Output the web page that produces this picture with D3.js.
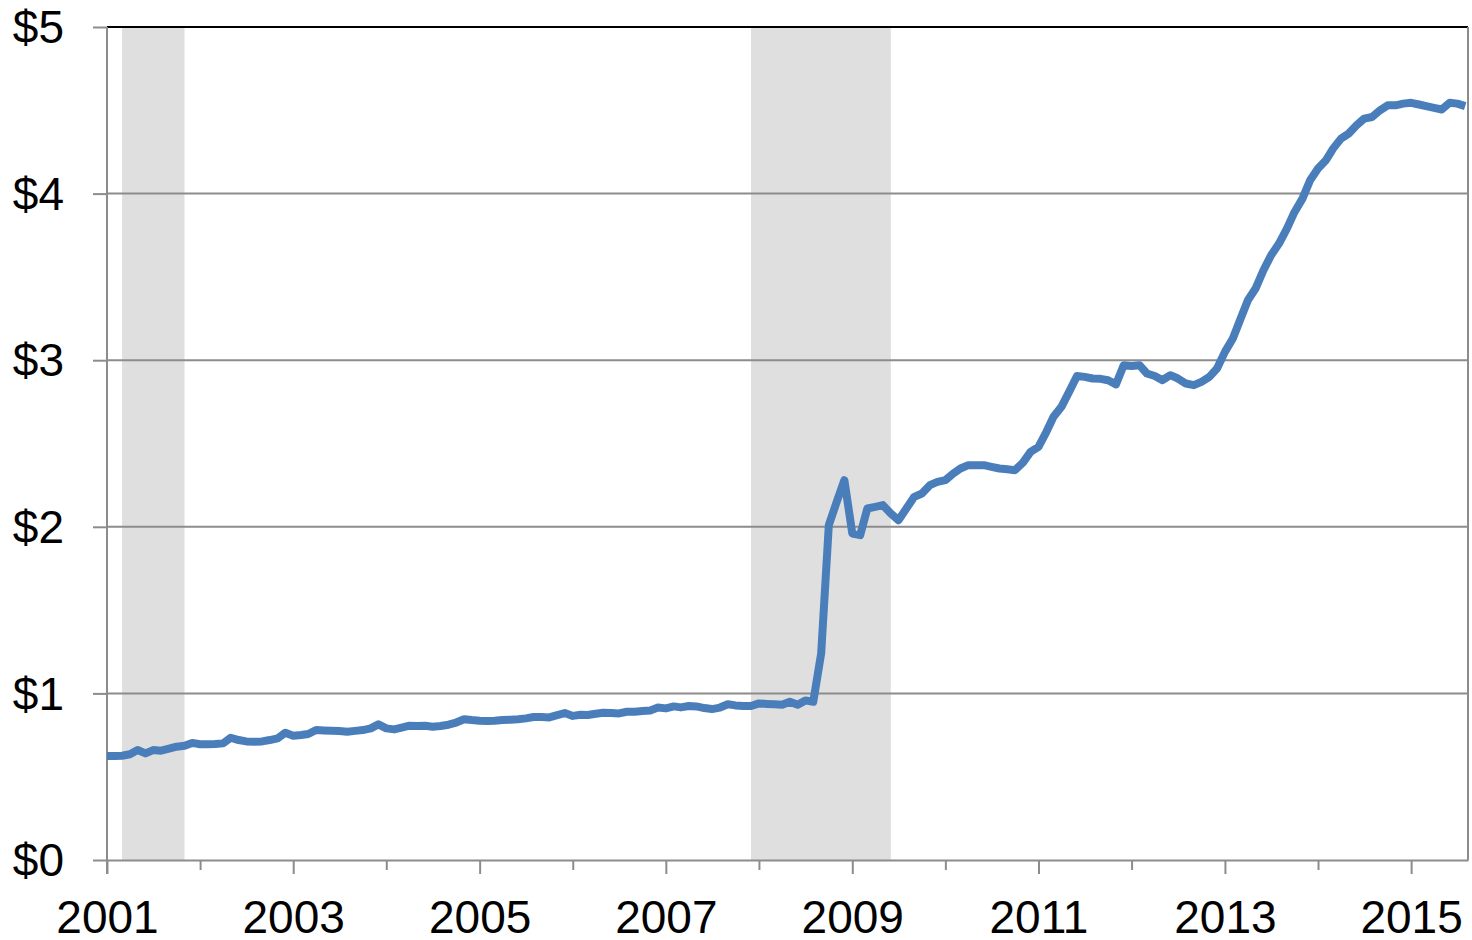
<!DOCTYPE html>
<html>
<head>
<meta charset="utf-8">
<script src="https://cdn.jsdelivr.net/npm/d3@7"></script>
<style>
  body { margin: 0; background: #fff; }
  svg text { font-family: "Liberation Sans", Arial, sans-serif; font-size: 46px; fill: #000; }
</style>
</head>
<body>
<svg id="chart" width="1472" height="940"></svg>
<script>
// monthly values, Jan 2001 onward
const startYear = 2001
const price = [
  0.624, 0.624, 0.626, 0.635, 0.66, 0.64, 0.66, 0.656, 0.668, 0.68, 0.686, 0.703,   // 2001
  0.695, 0.695, 0.696, 0.70, 0.734, 0.72, 0.712, 0.71, 0.712, 0.72, 0.73, 0.764,    // 2002
  0.746, 0.75, 0.756, 0.78, 0.778, 0.776, 0.774, 0.77, 0.775, 0.78, 0.79, 0.814,    // 2003
  0.79, 0.784, 0.795, 0.806, 0.804, 0.806, 0.80, 0.804, 0.812, 0.825, 0.845, 0.84,  // 2004
  0.836, 0.834, 0.836, 0.84, 0.842, 0.845, 0.85, 0.858, 0.858, 0.856, 0.87, 0.882,  // 2005
  0.865, 0.872, 0.87, 0.878, 0.884, 0.882, 0.88, 0.89, 0.89, 0.894, 0.898, 0.915,   // 2006
  0.91, 0.922, 0.916, 0.924, 0.922, 0.912, 0.906, 0.915, 0.935, 0.928, 0.924, 0.924, // 2007
  0.94, 0.937, 0.935, 0.932, 0.95, 0.932, 0.958, 0.95, 1.24, 2.01, 2.15, 2.28,      // 2008
  1.96, 1.95, 2.11, 2.12, 2.13, 2.08, 2.04, 2.11, 2.18, 2.20, 2.25, 2.27,          // 2009
  2.28, 2.32, 2.35, 2.37, 2.37, 2.37, 2.36, 2.35, 2.345, 2.34, 2.385, 2.45,         // 2010
  2.48, 2.57, 2.66, 2.72, 2.81, 2.905, 2.90, 2.89, 2.888, 2.88, 2.855, 2.97,        // 2011
  2.965, 2.97, 2.92, 2.905, 2.88, 2.91, 2.89, 2.86, 2.85, 2.87, 2.90, 2.95,         // 2012
  3.05, 3.13, 3.24, 3.36, 3.43, 3.54, 3.63, 3.70, 3.79, 3.89, 3.97, 4.08,           // 2013
  4.15, 4.20, 4.27, 4.33, 4.36, 4.41, 4.45, 4.46, 4.50, 4.53, 4.53, 4.54,           // 2014
  4.545, 4.535, 4.525, 4.515, 4.505, 4.545, 4.54, 4.525                              // 2015
]

// shaded recessions
const recessions = [
  ["2001-03-01", "2001-11-01"],
  ["2007-12-01", "2009-06-01"]
]

const yTicks = [0, 1, 2, 3, 4, 5]
const xEnd = new Date(2015, 7, 12)

const data = price.map((v, i) => ({ date: new Date(startYear, i, 1), value: v }))

const svg = d3.select("#chart")
const width = +svg.attr("width")
const height = +svg.attr("height")
const margin = { top: 27, right: 4, bottom: 80, left: 107 }
const innerWidth = width - margin.left - margin.right
const innerHeight = height - margin.top - margin.bottom

const xScale = d3.scaleTime()
    .domain([new Date(startYear, 0, 1), xEnd])
    .range([0, innerWidth])

const yScale = d3.scaleLinear()
    .domain([0, 5])
    .range([innerHeight, 0])

const g = svg.append("g")
    .attr("transform", `translate(${margin.left},${margin.top})`)

g.selectAll(".recession")
    .data(recessions)
    .enter()
    .append("rect")
    .attr("class", "recession")
    .attr("x", d => xScale(new Date(d[0])))
    .attr("width", d => xScale(new Date(d[1])) - xScale(new Date(d[0])))
    .attr("y", 0)
    .attr("height", innerHeight)
    .attr("fill", "#dfdfdf")

// y axis + gridlines
const yAxisG = g.append("g")
    .call(d3.axisLeft(yScale)
        .tickValues(yTicks)
        .tickSize(14)
        .tickPadding(29)
        .tickFormat(d => "$" + d))
yAxisG.select(".domain").remove()
yAxisG.selectAll(".tick line").attr("stroke", "#8c8c8c").attr("stroke-width", 2)
yAxisG.selectAll(".tick text").attr("dy", "0.34em")

g.append("g")
    .selectAll("line")
    .data(yTicks.filter(d => d > 0))
    .enter()
    .append("line")
    .attr("x1", 0)
    .attr("x2", innerWidth)
    .attr("y1", d => yScale(d))
    .attr("y2", d => yScale(d))
    .attr("stroke", d => d === 5 ? "#000" : "#8c8c8c")
    .attr("stroke-width", 2)

// x axis
const xAxisG = g.append("g")
    .attr("transform", `translate(0,${innerHeight})`)
    .call(d3.axisBottom(xScale)
        .ticks(d3.timeYear.every(1))
        .tickSizeOuter(0)
        .tickFormat(d => d.getFullYear() % 2 === 1 ? d.getFullYear() : ""))
xAxisG.select(".domain").attr("stroke", "#8c8c8c").attr("stroke-width", 2)
xAxisG.selectAll(".tick line")
    .attr("stroke", "#8c8c8c")
    .attr("stroke-width", 2)
    .attr("y2", d => d.getFullYear() % 2 === 1 ? 14 : 10)
xAxisG.selectAll(".tick text")
    .attr("y", 40)
    .attr("dy", "0.71em")

// left and right frame lines
g.append("line")
    .attr("x1", 0).attr("x2", 0)
    .attr("y1", 0).attr("y2", innerHeight + 14)
    .attr("stroke", "#8c8c8c")
    .attr("stroke-width", 2)

g.append("line")
    .attr("x1", innerWidth).attr("x2", innerWidth)
    .attr("y1", 0).attr("y2", innerHeight)
    .attr("stroke", "#8c8c8c")
    .attr("stroke-width", 2)

const lineGenerator = d3.line()
    .x(d => xScale(d.date))
    .y(d => yScale(d.value))

g.append("path")
    .attr("d", lineGenerator(data))
    .attr("fill", "none")
    .attr("stroke", "#4a7ebb")
    .attr("stroke-width", 8)
    .attr("stroke-linejoin", "round")
    .attr("stroke-linecap", "butt")
</script>
</body>
</html>
